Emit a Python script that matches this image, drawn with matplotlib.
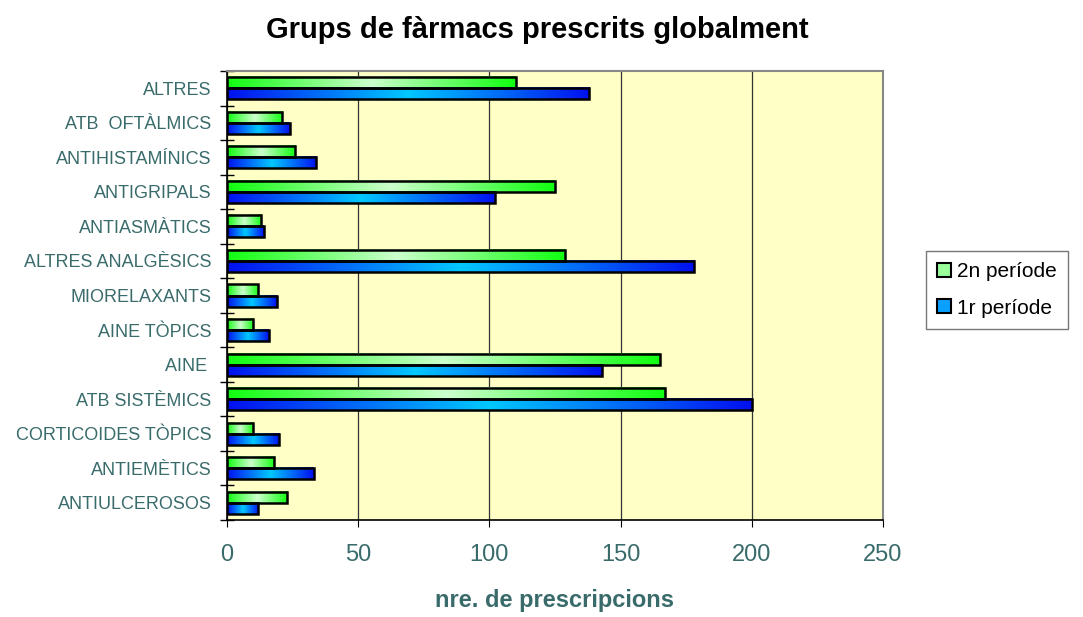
import numpy as np
import matplotlib
matplotlib.use('Agg')
import matplotlib.pyplot as plt
from matplotlib.colors import LinearSegmentedColormap
from matplotlib.patches import Patch

plt.rcParams['font.family'] = ['Liberation Sans', 'DejaVu Sans']

# categories from top to bottom
categories = ['ALTRES', 'ATB  OFTÀLMICS', 'ANTIHISTAMÍNICS', 'ANTIGRIPALS',
              'ANTIASMÀTICS', 'ALTRES ANALGÈSICS', 'MIORELAXANTS', 'AINE TÒPICS',
              'AINE ', 'ATB SISTÈMICS', 'CORTICOIDES TÒPICS', 'ANTIEMÈTICS',
              'ANTIULCEROSOS']
periode2 = [110, 21, 26, 125, 13, 129, 12, 10, 165, 167, 10, 18, 23]
periode1 = [138, 24, 34, 102, 14, 178, 19, 16, 143, 200, 20, 33, 12]
series_names = ['2n període', '1r període']
xticks = [0, 50, 100, 150, 200, 250]

text_col = '#3a6b6b'
green_cm = LinearSegmentedColormap.from_list('g', ['#10ff10', '#ccffcc', '#10ff10'])
blue_cm = LinearSegmentedColormap.from_list('b', ['#0010f0', '#00c8ff', '#0010f0'])
grad = np.linspace(0, 1, 256).reshape(1, -1)

fig = plt.figure(figsize=(10.83, 6.17), dpi=100)
ax = fig.add_axes([0.2096, 0.1572, 0.6057, 0.7277])
ax.set_facecolor('#ffffc6')

n = len(categories)
ypos = np.arange(n)[::-1]
h = 0.32

# gradient fills, then black outlines on top
for y, v2, v1 in zip(ypos, periode2, periode1):
    ax.imshow(grad, extent=[0, v2, y, y + h], cmap=green_cm, aspect='auto', zorder=2)
    ax.imshow(grad, extent=[0, v1, y - h, y], cmap=blue_cm, aspect='auto', zorder=2)

ax.barh(ypos + h / 2, periode2, height=h, facecolor='none', edgecolor='black', linewidth=1.8, zorder=3)
ax.barh(ypos - h / 2, periode1, height=h, facecolor='none', edgecolor='black', linewidth=1.8, zorder=3)

ax.set_xlim(0, 250)
ax.set_ylim(-0.5, n - 0.5)
ax.set_xticks(xticks)
ax.set_xticklabels([str(t) for t in xticks], fontsize=17, color=text_col)
ax.set_yticks(ypos)
ax.set_yticklabels(categories, fontsize=13, color=text_col)
ax.tick_params(axis='y', length=0, pad=11)
ax.set_yticks(np.arange(n + 1) - 0.5, minor=True)
ax.tick_params(axis='y', which='minor', direction='inout', length=10, width=1)
ax.tick_params(axis='x', direction='out', length=5, pad=12)

ax.grid(axis='x', color='#333333', linewidth=0.9, zorder=1)
ax.set_axisbelow(True)
for s in ['top', 'right']:
    ax.spines[s].set_color('#888888')
    ax.spines[s].set_linewidth(1.5)
for s in ['left', 'bottom']:
    ax.spines[s].set_color('black')
    ax.spines[s].set_linewidth(1.2)

ax.set_xlabel('nre. de prescripcions', fontsize=17, fontweight='bold', color=text_col, labelpad=17)
fig.text(0.496, 0.951, 'Grups de fàrmacs prescrits globalment', fontsize=21,
         fontweight='bold', ha='center', va='center')

handles = [Patch(facecolor='#99ff99', edgecolor='black', linewidth=1.5),
           Patch(facecolor='#0aa0ff', edgecolor='black', linewidth=1.5)]
leg = fig.legend(handles, series_names, loc='upper left', bbox_to_anchor=(0.855, 0.594),
                 fontsize=15, frameon=True, fancybox=False, edgecolor='#555555',
                 handlelength=0.65, handleheight=0.65, handletextpad=0.3,
                 borderaxespad=0, labelspacing=0.85, borderpad=0.55)
leg.get_frame().set_linewidth(1.0)

fig.savefig('out.png', dpi=100)
